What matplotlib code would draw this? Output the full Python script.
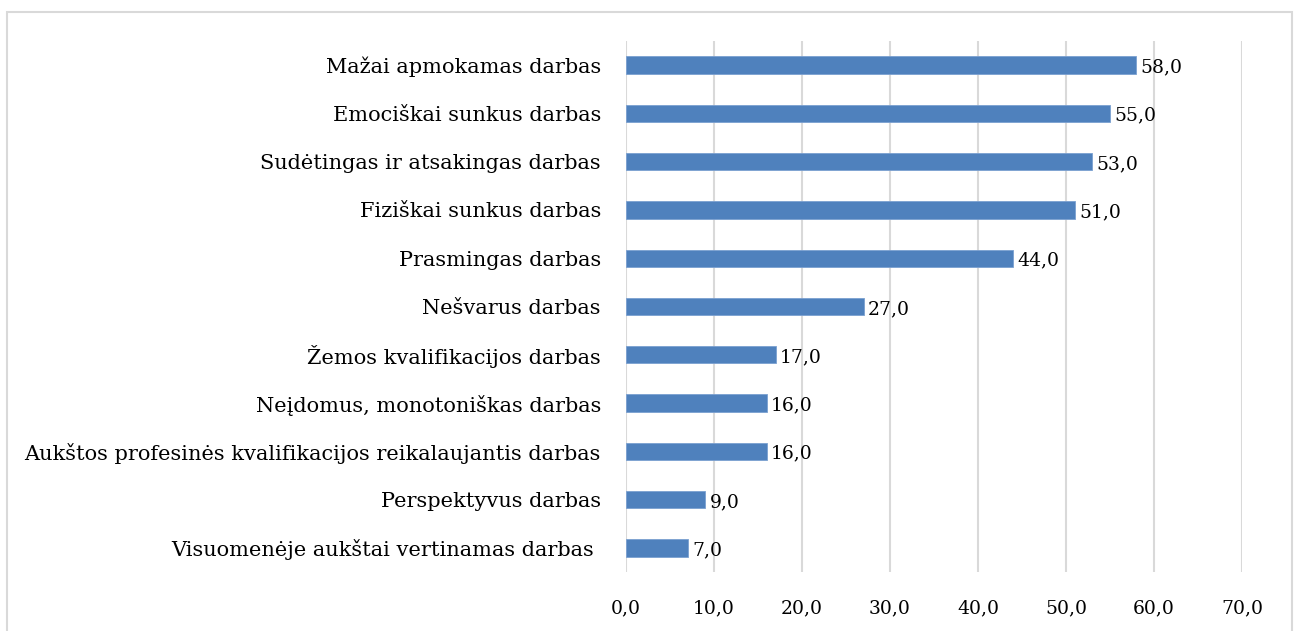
import matplotlib
matplotlib.use('Agg')
import matplotlib.pyplot as plt
from matplotlib.patches import Rectangle

categories = [
    'Mažai apmokamas darbas',
    'Emociškai sunkus darbas',
    'Sudėtingas ir atsakingas darbas',
    'Fiziškai sunkus darbas',
    'Prasmingas darbas',
    'Nešvarus darbas',
    'Žemos kvalifikacijos darbas',
    'Neįdomus, monotoniškas darbas',
    'Aukštos profesinės kvalifikacijos reikalaujantis darbas',
    'Perspektyvus darbas',
    'Visuomenėje aukštai vertinamas darbas ',
]
values = [58.0, 55.0, 53.0, 51.0, 44.0, 27.0, 17.0, 16.0, 16.0, 9.0, 7.0]
ticks = [0, 10, 20, 30, 40, 50, 60, 70]

font = 'DejaVu Serif'
fs_lab = 15
fs_num = 13.5

fig = plt.figure(figsize=(12.99, 6.31), dpi=100)
ax = fig.add_axes([626 / 1299, 1 - 572 / 631, (1242 - 626) / 1299, 531 / 631])

y = list(range(len(categories)))[::-1]
ax.barh(y, values, height=0.36, color='#4f81bd', edgecolor='#7aa0d0', linewidth=0.6, zorder=3)
for yi, v in zip(y, values):
    ax.text(v + 0.5, yi - 0.05, f'{v:.1f}'.replace('.', ','), va='center', ha='left',
            fontsize=fs_num, family=font, color='black')

ax.set_xlim(0, 70)
ax.set_ylim(-0.5, len(categories) - 0.5)
ax.set_yticks(y)
ax.set_yticklabels(categories, family=font, fontsize=fs_lab)
ax.set_xticks(ticks)
ax.set_xticklabels([f'{t:.1f}'.replace('.', ',') for t in ticks], family=font, fontsize=fs_num)
ax.tick_params(axis='y', length=0, pad=18)
ax.tick_params(axis='x', length=0, pad=20)
ax.grid(axis='x', color='#d9d9d9', linewidth=1.5, zorder=0)
for s in ax.spines.values():
    s.set_visible(False)

fig.patches.append(Rectangle((7 / 1299, -0.01), (1292 - 7) / 1299, 1.01 - 12 / 631,
                             transform=fig.transFigure, fill=False,
                             edgecolor='#d9d9d9', linewidth=1.5))

fig.savefig('out.png', dpi=100)
